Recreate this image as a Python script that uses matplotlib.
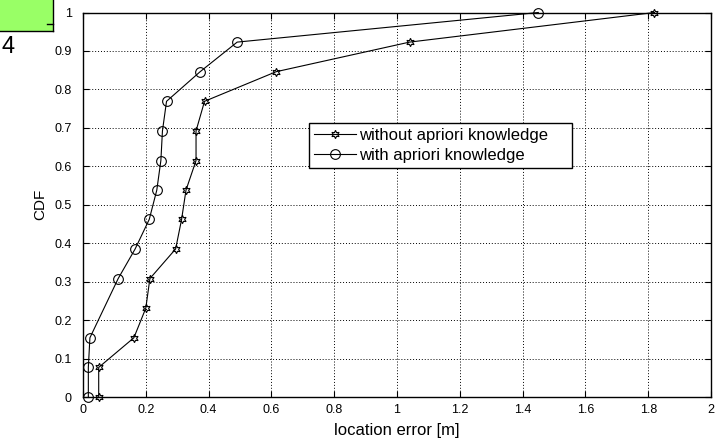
import matplotlib
matplotlib.use("Agg")
import matplotlib.pyplot as plt
from matplotlib.patches import Rectangle
from matplotlib.lines import Line2D

# data
without_x = [0.05, 0.05, 0.162, 0.2, 0.213, 0.295, 0.314, 0.328, 0.36, 0.36, 0.387, 0.615, 1.04, 1.82]
without_y = [0, 0.077, 0.154, 0.231, 0.308, 0.385, 0.462, 0.538, 0.615, 0.692, 0.769, 0.846, 0.923, 1.0]
with_x = [0.017, 0.017, 0.022, 0.112, 0.166, 0.211, 0.235, 0.248, 0.253, 0.266, 0.373, 0.491, 1.45]
with_y = [0, 0.077, 0.154, 0.308, 0.385, 0.462, 0.538, 0.615, 0.692, 0.769, 0.846, 0.923, 1.0]

xticks = [0, 0.2, 0.4, 0.6, 0.8, 1, 1.2, 1.4, 1.6, 1.8, 2]
xtick_labels = ['0', '0.2', '0.4', '0.6', '0.8', '1', '1.2', '1.4', '1.6', '1.8', '2']
yticks = [0, 0.1, 0.2, 0.3, 0.4, 0.5, 0.6, 0.7, 0.8, 0.9, 1]
ytick_labels = ['0', '0.1', '0.2', '0.3', '0.4', '0.5', '0.6', '0.7', '0.8', '0.9', '1']
legend_labels = ['without apriori knowledge', 'with apriori knowledge']

plt.rcParams['font.family'] = ['Liberation Sans Narrow', 'Liberation Sans', 'DejaVu Sans']

W, H = 723, 445
fig = plt.figure(figsize=(W / 100, H / 100), dpi=100)
fig.patch.set_facecolor('white')

# cropped page bits in the top-left corner
fig.patches.append(Rectangle((0, 1 - 31 / H), 53 / W, 31 / H, transform=fig.transFigure,
                             facecolor='#99ff66', edgecolor='none', zorder=0))
fig.lines.append(Line2D([53 / W, 53 / W], [1, 1 - 31 / H], transform=fig.transFigure, color='black', lw=1))
fig.lines.append(Line2D([0, 53 / W], [1 - 31 / H, 1 - 31 / H], transform=fig.transFigure, color='black', lw=1))
fig.lines.append(Line2D([47 / W, 53 / W], [1 - 24 / H, 1 - 24 / H], transform=fig.transFigure, color='black', lw=1))
fig.text(1 / W, 1 - 47 / H, '4', fontsize=17, va='center', ha='left')

ax = fig.add_axes([83 / W, 48 / H, 628 / W, 384.5 / H])

ax.plot(without_x, without_y, color='black', lw=0.8, marker=(6, 1, 0), markersize=6,
        markerfacecolor='none', markeredgecolor='black', markeredgewidth=0.8, clip_on=False,
        label=legend_labels[0])
ax.plot(with_x, with_y, color='black', lw=0.8, marker='o', markersize=7,
        markerfacecolor='none', markeredgecolor='black', markeredgewidth=0.8, clip_on=False,
        label=legend_labels[1])

ax.set_xlim(0, 2)
ax.set_ylim(0, 1)
ax.set_xticks(xticks)
ax.set_xticklabels(xtick_labels)
ax.set_yticks(yticks)
ax.set_yticklabels(ytick_labels)
ax.tick_params(direction='in', length=4, labelsize=9, pad=5, top=True, right=True)
ax.tick_params(axis='y', pad=8)
ax.grid(True, color='black', linestyle=(0, (1, 2)), linewidth=0.7)
for s in ax.spines.values():
    s.set_linewidth(1.0)

ax.set_xlabel('location error [m]', fontsize=12, labelpad=5)
ax.set_ylabel('CDF', fontsize=11, labelpad=5)

leg = ax.legend(loc='center', bbox_to_anchor=(0.36, 0.572, 0.419, 0.164), mode='expand',
                fontsize=12, frameon=True, fancybox=False, edgecolor='black', framealpha=1,
                handlelength=2.5, handletextpad=0.2, labelspacing=0.3, borderpad=0.3,
                borderaxespad=0)
leg.get_frame().set_linewidth(1.0)

fig.savefig('out.png', dpi=100)
